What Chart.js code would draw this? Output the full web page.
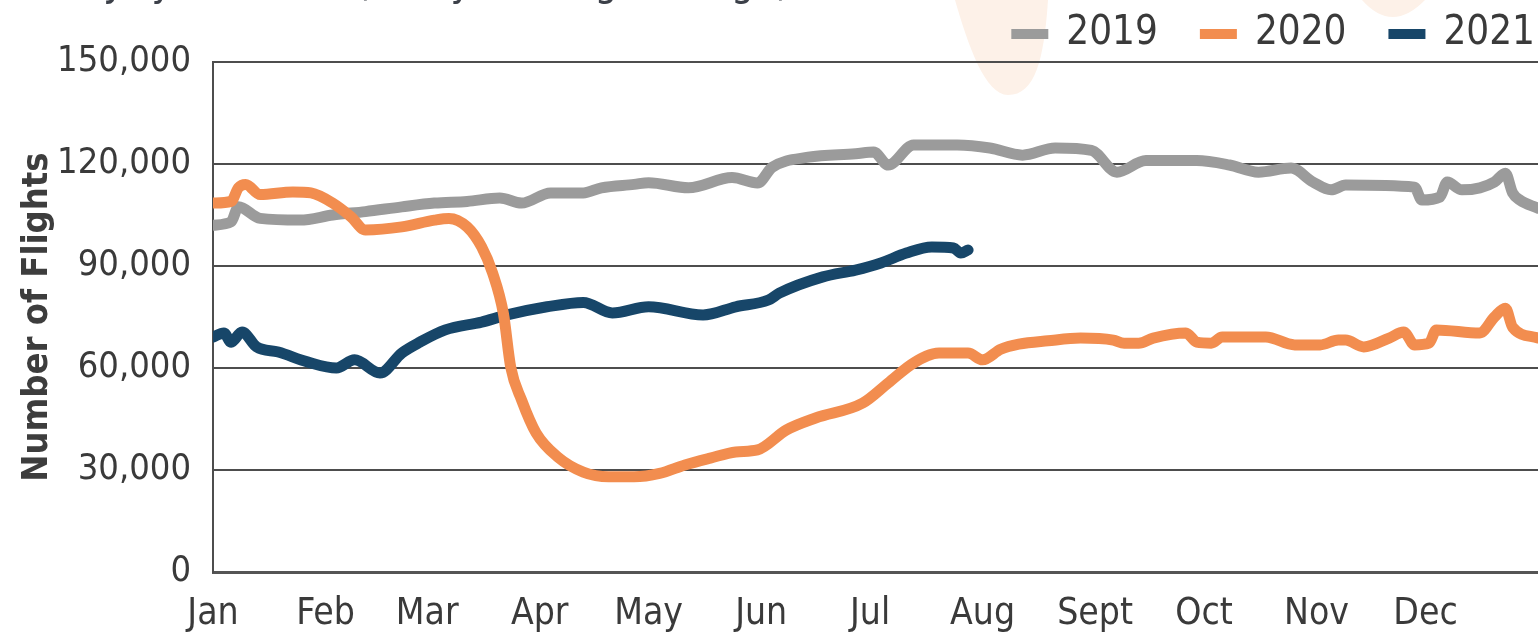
<!DOCTYPE html>
<html>
<head>
<meta charset="utf-8">
<script src="https://cdn.jsdelivr.net/npm/chart.js@4.4.0/dist/chart.umd.min.js"></script>
<style>
  html, body { margin: 0; padding: 0; background: #fff; overflow: hidden; }
  canvas { display: block; }
</style>
</head>
<body>
<canvas id="flights-chart" width="1538" height="636"></canvas>
<script>
// month ticks (day of year where each month starts)
const month_labels = ['Jan', 'Feb', 'Mar', 'Apr', 'May', 'Jun', 'Jul', 'Aug', 'Sept', 'Oct', 'Nov', 'Dec'];
const month_starts = [0, 31, 59, 90, 120, 151, 181, 212, 243, 273, 304, 334];

const year_labels = ['2019', '2020', '2021'];

// 7-day average flights (day of year -> flights)
const days_2019 = [0, 5, 7, 13, 24, 33, 42, 52, 61, 70, 79, 85, 93, 102, 107, 116, 120, 131, 143, 150, 154, 164, 177, 182, 186, 193, 205, 214, 223, 232, 242, 249, 257, 271, 280, 288, 297, 303, 308, 312, 331, 333, 338, 340, 344, 349, 353, 356, 358, 360, 365];
const flights_2019 = [102000, 103000, 107400, 104000, 103500, 105000, 106000, 107400, 108500, 109000, 110000, 108500, 111500, 111500, 113000, 114000, 114500, 113000, 116000, 114400, 119000, 122000, 123000, 123500, 119700, 125600, 125600, 124700, 122600, 124700, 124000, 117600, 121000, 121000, 119700, 117600, 118800, 114700, 112400, 113800, 113200, 109400, 110300, 114700, 112400, 113000, 114700, 117300, 111500, 109400, 107000];

const days_2020 = [0, 5, 7, 9, 13, 22, 27, 33, 38, 42, 52, 61, 65, 70, 74, 77, 80, 82, 85, 89, 95, 102, 109, 116, 123, 130, 137, 144, 150, 158, 166, 179, 186, 193, 200, 208, 212, 217, 222, 230, 239, 248, 251, 255, 259, 268, 271, 275, 278, 290, 298, 305, 310, 312, 317, 324, 328, 331, 335, 337, 349, 353, 356, 358, 365];
const flights_2020 = [108500, 109000, 113000, 114000, 111000, 111800, 111500, 108500, 104500, 100600, 101500, 103500, 104000, 101500, 95600, 88000, 76000, 60300, 50600, 40900, 33800, 29400, 28000, 28000, 29000, 31500, 33500, 35300, 35900, 41800, 45300, 49700, 55600, 61500, 64400, 64400, 62400, 65500, 67000, 68000, 68800, 68200, 67300, 67300, 68800, 70300, 67600, 67300, 69100, 69100, 66800, 66800, 68200, 68200, 66200, 68800, 70600, 66800, 67300, 71200, 70300, 75000, 77600, 72000, 68800];

const days_2021 = [0, 3, 5, 8, 12, 18, 26, 34, 39, 46, 52, 57, 64, 74, 81, 92, 102, 110, 120, 135, 144, 153, 156, 168, 177, 184, 191, 198, 204, 206, 208];
const flights_2021 = [69100, 70300, 67600, 70600, 66200, 64700, 61800, 60000, 62400, 58500, 64400, 67600, 71200, 73500, 75600, 78000, 79300, 76200, 78000, 75600, 78000, 80000, 82000, 86800, 88800, 90900, 93800, 95600, 95300, 93800, 94700];

const title_text = 'July 31, 2021 (7-day moving average)';

const font_family = '"DejaVu Sans Condensed", "Liberation Sans Narrow", sans-serif';
const text_color = '#3a3a3a';

function to_points(days, values) {
  return days.map((d, i) => ({ x: d, y: values[i] }));
}

// faint background shapes + cut-off title line at the very top
const backdrop = {
  id: 'backdrop',
  beforeDraw(chart) {
    const ctx = chart.ctx;
    ctx.save();
    ctx.fillStyle = '#fdf1e8';
    ctx.beginPath();
    ctx.moveTo(955, 0);
    ctx.bezierCurveTo(968, 45, 985, 95, 1008, 95);
    ctx.bezierCurveTo(1035, 95, 1044, 60, 1048, 0);
    ctx.closePath();
    ctx.fill();
    ctx.beginPath();
    ctx.moveTo(1362, 0);
    ctx.quadraticCurveTo(1392, 34, 1425, 0);
    ctx.closePath();
    ctx.fill();
    ctx.fillStyle = '#3c4049';
    ctx.font = '40px ' + font_family;
    ctx.textBaseline = 'alphabetic';
    ctx.fillText(title_text, 108, -5);
    ctx.restore();
  }
};

// legend row at the top right
const legend_row = {
  id: 'legend_row',
  afterDraw(chart) {
    const ctx = chart.ctx;
    ctx.save();
    ctx.font = '40px ' + font_family;
    ctx.textBaseline = 'middle';
    let x = chart.width - 3;
    const y = 34;
    chart.data.datasets.slice().reverse().forEach(ds => {
      const w = ctx.measureText(ds.label).width;
      x -= w;
      ctx.fillStyle = text_color;
      ctx.fillText(ds.label, x, y);
      x -= 18 + 37;
      ctx.fillStyle = ds.borderColor;
      ctx.fillRect(x, y - 5, 37, 10);
      x -= 42;
    });
    ctx.restore();
  }
};

function line_set(label, days, values, color, order) {
  return {
    label: label,
    data: to_points(days, values),
    borderColor: color,
    backgroundColor: color,
    borderWidth: 11,
    borderCapStyle: 'round',
    borderJoinStyle: 'round',
    pointRadius: 0,
    cubicInterpolationMode: 'monotone',
    fill: false,
    order: order
  };
}

const element = document.getElementById('flights-chart').getContext('2d');

new Chart(element, {
  type: 'line',
  data: {
    datasets: [
      line_set(year_labels[0], days_2019, flights_2019, '#9b9b9b', 1),
      line_set(year_labels[1], days_2020, flights_2020, '#f28d4f', 0),
      line_set(year_labels[2], days_2021, flights_2021, '#174669', 2)
    ]
  },
  options: {
    responsive: false,
    animation: false,
    devicePixelRatio: 1,
    layout: { padding: { top: 62, left: 0, right: 0, bottom: 0 } },
    plugins: {
      legend: { display: false },
      tooltip: { enabled: false }
    },
    scales: {
      x: {
        type: 'linear',
        min: 0,
        max: 365,
        afterBuildTicks(scale) {
          scale.ticks = month_starts.map(v => ({ value: v }));
        },
        afterFit(scale) { scale.height = 64; },
        ticks: {
          autoSkip: false,
          maxRotation: 0,
          padding: 20,
          color: text_color,
          font: { family: font_family, size: 37 },
          callback: v => month_labels[month_starts.indexOf(v)]
        },
        grid: { display: false, drawTicks: false },
        border: { display: true, color: '#555', width: 3 }
      },
      y: {
        min: 0,
        max: 150000,
        afterFit(scale) { scale.width = 213; },
        ticks: {
          stepSize: 30000,
          padding: 22,
          color: text_color,
          font: { family: font_family, size: 36 },
          callback: v => v.toLocaleString('en-US')
        },
        grid: { color: '#4d4d4d', lineWidth: 2, drawTicks: false },
        border: { display: true, color: '#4d4d4d', width: 2 },
        title: {
          display: true,
          text: 'Number of Flights',
          color: '#3d3d3d',
          font: { family: font_family, size: 36, weight: 'bold' },
          padding: { top: 16, bottom: 0 }
        }
      }
    }
  },
  plugins: [backdrop, legend_row]
});
</script>
</body>
</html>
